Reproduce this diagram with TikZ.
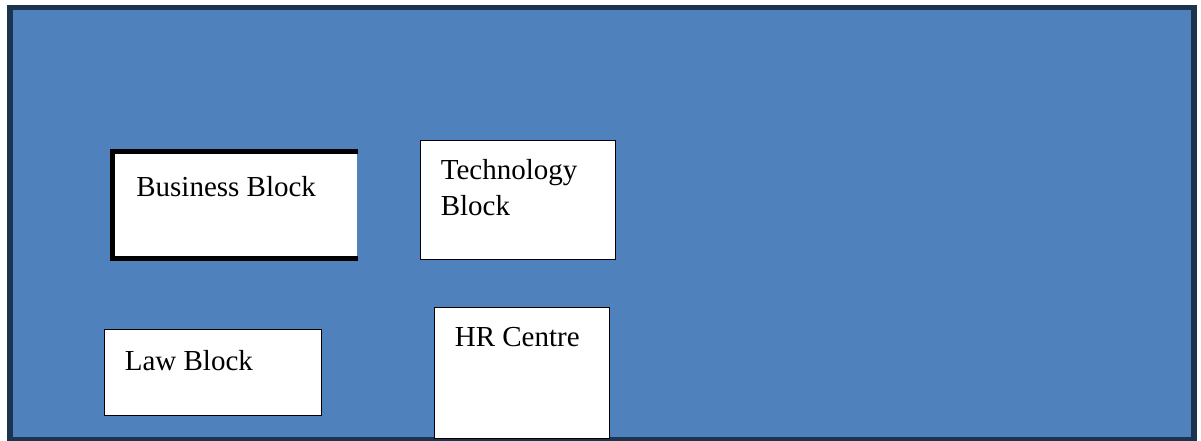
\documentclass[tikz,border=0pt]{standalone}
\usepackage{fontspec}
\setmainfont{Liberation Serif}
\usetikzlibrary{calc}
\definecolor{campusblue}{HTML}{4F81BD}
\definecolor{campusframe}{HTML}{1D3451}
\tikzset{
  block/.style = {draw=black, line width=0.9pt, fill=white, anchor=north west, inner sep=0pt},
  blocklabel/.style = {anchor=west, inner sep=0pt, align=left,
    font=\fontsize{16.5}{20.5}\selectfont},
  thickedge/.style = {draw=black, line width=2.9pt, line join=miter}
}

\begin{document}
\begin{tikzpicture}[x=0.02cm,y=-0.02cm]
  \useasboundingbox (0,0) rectangle (1201,440);
  \clip (0,0) rectangle (1201,440);
  % campus ground
  \draw[campusframe, fill=campusblue, line width=3.2pt] (10,7.5) rectangle (1194,439.5);

  % business block, open on its right side
  \node[block, draw=none, minimum width=246*0.02cm, minimum height=110*0.02cm] (business) at (110,149) {};
  \draw[thickedge] ($(business.north east)+(0,2.5)$) -- ($(business.north west)+(2.7,2.5)$)
    -- ($(business.south west)+(2.7,-2.2)$) -- ($(business.south east)+(0,-2.2)$);
  \node[blocklabel] (businesstext) at ($(business.north west)+(26,38)$) {Business Block};

  \node[block, minimum width=195*0.02cm, minimum height=119*0.02cm] (tech) at (419.5,139.5) {};
  \node[blocklabel] (techtext) at ($(tech.north west)+(21,48)$) {Technology\\Block};

  \node[block, minimum width=217*0.02cm, minimum height=86*0.02cm] (law) at (103.5,328.5) {};
  \node[blocklabel] (lawtext) at ($(law.north west)+(21,32)$) {Law Block};

  \node[block, minimum width=175*0.02cm, minimum height=131*0.02cm] (hr) at (433.5,306.5) {};
  \node[blocklabel] (hrtext) at ($(hr.north west)+(21,31)$) {HR Centre};
\end{tikzpicture}
\end{document}
